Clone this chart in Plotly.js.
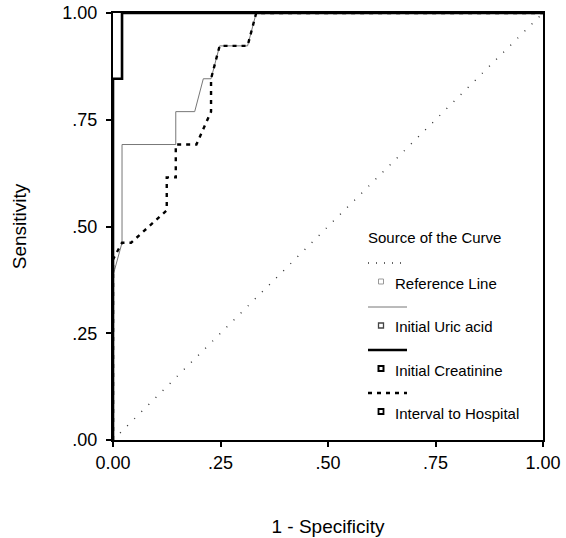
<!DOCTYPE html>
<html>
<head>
<meta charset="utf-8">
<script src="https://cdn.plot.ly/plotly-3.0.1.min.js"></script>
<style>html,body{margin:0;padding:0;background:#fff;}#chart{width:566px;height:538px;}</style>
</head>
<body>
<div id="chart"></div>
<script>
// ---- data ----
const tickVals = [0, 0.25, 0.5, 0.75, 1];
const tickText = ['0.00', '.25', '.50', '.75', '1.00'];
const yTickText = ['.00', '.25', '.50', '.75', '1.00'];

const refX = [0, 1];
const refY = [0, 1];

const uricX = [0, 0, 0.021, 0.021, 0.146, 0.146, 0.19, 0.21, 0.228, 0.248, 0.313, 0.333, 1];
const uricY = [0, 0.385, 0.462, 0.692, 0.692, 0.769, 0.769, 0.846, 0.846, 0.923, 0.923, 1, 1];

const creatX = [0, 0, 0.021, 0.021, 1];
const creatY = [0, 0.846, 0.846, 1, 1];

const intX = [0, 0, 0.021, 0.042, 0.125, 0.125, 0.146, 0.146, 0.194, 0.228, 0.228, 0.248, 0.313, 0.333, 1];
const intY = [0, 0.423, 0.462, 0.462, 0.538, 0.615, 0.615, 0.692, 0.692, 0.769, 0.846, 0.923, 0.923, 1, 1];

const legendTitle = 'Source of the Curve';
const seriesNames = ['Reference Line', 'Initial Uric acid', 'Initial Creatinine', 'Interval to Hospital'];

// ---- styles ----
const FONT = 'Liberation Sans, Arial, Helvetica, sans-serif';
const styles = [
  {color: '#333', width: 1.4, dash: '1px,9px'},
  {color: '#777', width: 1, dash: 'solid'},
  {color: '#000', width: 2.6, dash: 'solid'},
  {color: '#000', width: 2.4, dash: '4px,5px'}
];
const series = [[refX, refY], [uricX, uricY], [creatX, creatY], [intX, intY]];

const traces = series.map((s, i) => ({
  x: s[0], y: s[1], type: 'scatter', mode: 'lines', name: seriesNames[i],
  line: {color: styles[i].color, width: styles[i].width, dash: styles[i].dash},
  showlegend: false, hoverinfo: 'skip'
}));

// plot area in pixels
const L = 113, R = 543, T = 13, B = 440;
const px = X => (X - L) / (R - L);
const py = Y => (B - Y) / (B - T);

const shapes = [];
const annotations = [];
annotations.push({xref: 'paper', yref: 'paper', x: px(366), y: py(238), xanchor: 'left', yanchor: 'middle',
  text: legendTitle, showarrow: false, font: {family: FONT, size: 15, color: '#000'}});
const sampleY = [263, 307, 350, 393];
const textY = [283, 327, 370, 413];
const sqStyle = [{c: '#999', w: 1}, {c: '#444', w: 1.3}, {c: '#000', w: 2}, {c: '#000', w: 1.8}];
for (let i = 0; i < 4; i++) {
  shapes.push({type: 'line', xref: 'paper', yref: 'paper', x0: px(368), x1: px(407), y0: py(sampleY[i]), y1: py(sampleY[i]),
    line: {color: styles[i].color, width: styles[i].width, dash: i === 0 ? '1px,7px' : styles[i].dash}});
  shapes.push({type: 'rect', xref: 'paper', yref: 'paper', x0: px(378.5), x1: px(383.5), y0: py(textY[i] - 4), y1: py(textY[i] + 1),
    line: {color: sqStyle[i].c, width: sqStyle[i].w}, fillcolor: 'rgba(0,0,0,0)'});
  annotations.push({xref: 'paper', yref: 'paper', x: px(393), y: py(textY[i]), xanchor: 'left', yanchor: 'middle',
    text: seriesNames[i], showarrow: false, font: {family: FONT, size: 15, color: '#000'}});
}

const axisCommon = {
  range: [0, 1], tickvals: tickVals, showgrid: false, zeroline: false,
  showline: true, linecolor: '#000', linewidth: 2, mirror: true,
  ticks: 'outside', ticklen: 5, tickwidth: 2, tickcolor: '#000',
  tickfont: {family: FONT, size: 18, color: '#000'}, fixedrange: true
};

const layout = {
  width: 566, height: 538,
  margin: {l: L, r: 566 - R, t: T, b: 538 - B},
  paper_bgcolor: '#fff', plot_bgcolor: '#fff',
  xaxis: Object.assign({}, axisCommon, {ticktext: tickText, ticklabelstandoff: 0,
    title: {text: '1 - Specificity', font: {family: FONT, size: 19, color: '#000'}, standoff: 48}}),
  yaxis: Object.assign({}, axisCommon, {ticktext: yTickText, ticklabelstandoff: 5,
    title: {text: 'Sensitivity', font: {family: FONT, size: 19, color: '#000'}, standoff: 31}}),
  shapes: shapes, annotations: annotations, showlegend: false
};

Plotly.newPlot('chart', traces, layout, {displayModeBar: false, staticPlot: true});
</script>
</body>
</html>
